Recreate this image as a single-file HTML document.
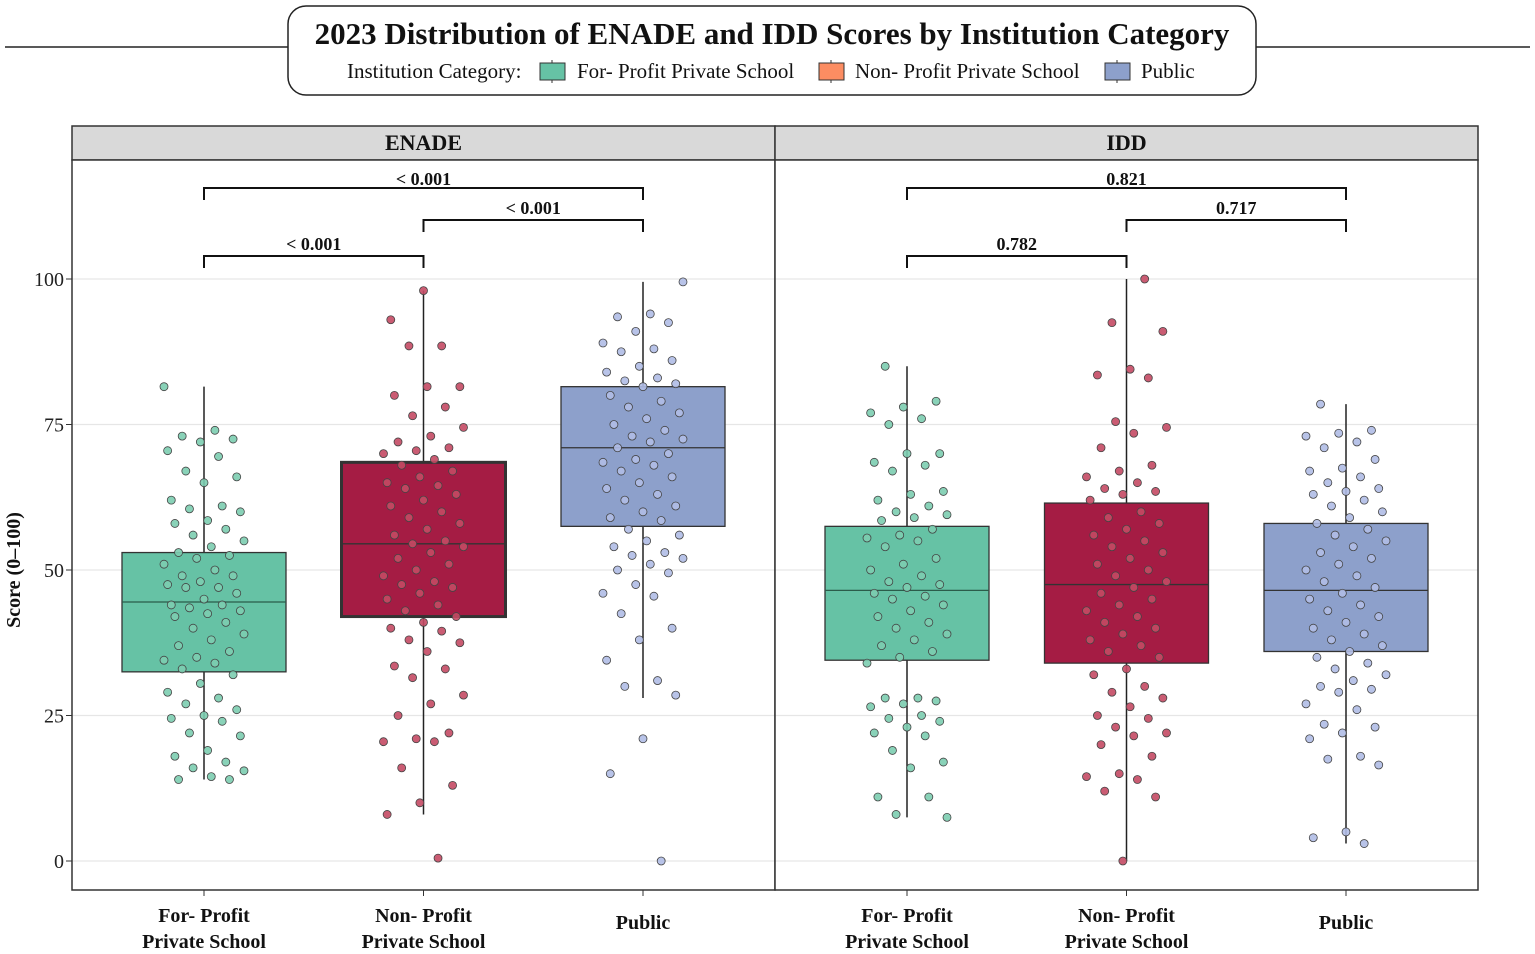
<!DOCTYPE html>
<html><head><meta charset="utf-8"><style>
html,body{margin:0;padding:0;background:#fff;}
svg{display:block;font-family:"Liberation Serif","Times New Roman",serif;}
</style></head><body>
<svg id="chart" width="1535" height="954" viewBox="0 0 1535 954" xmlns="http://www.w3.org/2000/svg">
<line x1="5" y1="47" x2="1530" y2="47" stroke="#222" stroke-width="1.5"/>
<rect x="288" y="6" width="968" height="89" rx="18" fill="#fff" stroke="#222" stroke-width="1.5"/>
<text x="772" y="44" text-anchor="middle" font-size="31" font-weight="bold" fill="#111">2023 Distribution of ENADE and IDD Scores by Institution Category</text>
<g>
<text x="347" y="78" font-size="21" fill="#111">Institution Category:</text>
<g><line x1="552" y1="60" x2="552" y2="83" stroke="#333"/><rect x="540" y="63" width="25" height="17" fill="#66c2a5" stroke="#333"/><text x="577" y="78" font-size="21" fill="#111">For- Profit Private School</text></g>
<g><line x1="831" y1="60" x2="831" y2="83" stroke="#333"/><rect x="819" y="63" width="25" height="17" fill="#fc8d62" stroke="#333"/><text x="855" y="78" font-size="21" fill="#111">Non- Profit Private School</text></g>
<g><line x1="1117" y1="60" x2="1117" y2="83" stroke="#333"/><rect x="1105" y="63" width="25" height="17" fill="#8da0cb" stroke="#333"/><text x="1141" y="78" font-size="21" fill="#111">Public</text></g>
</g>
<g id="plot"></g>
</svg>
<script>
const categories = ["For- Profit|Private School","Non- Profit|Private School","Public"];
const panels = ["ENADE","IDD"];
const yTicks = [0,25,50,75,100];
// box stats: [lowWhisker, q1, median, q3, highWhisker]
const enadeBoxes = [[14,32.5,44.5,53,81.5],[8,42,54.5,68.5,98],[28,57.5,71,81.5,99.5]];
const iddBoxes = [[7.5,34.5,46.5,57.5,85],[0,34,47.5,61.5,100],[3,36,46.5,58,78.5]];
const enadeFP = [81.5,74,73,72.5,72,70.5,69.5,67,66,65,62,61,60.5,60,58.5,58,57,56,55,54,53,52.5,52,51,50,49,49,48,47.5,47,47,46,45,44,44,43.5,43,42.5,42,41,40,39,38,37,36,35,34.5,34,33,32,30.5,29,28,27,26,25,24.5,24,22,21.5,19,18,17,16,15.5,14.5,14,14];
const enadeNP = [98,93,88.5,88.5,81.5,81.5,80,78,76.5,74.5,73,72,71,70.5,70,69,68,67,66,65,64.5,64,63,62,61,60,59,58,57,56,55,54.5,54,53,52,51,50,49,48,47.5,47,46,45,44,43,42,41,40,39.5,38,37.5,36,33.5,33,31.5,28.5,27,25,22,21,20.5,20.5,16,13,10,8,0.5];
const enadePub = [99.5,94,93.5,92.5,91,89,88,87.5,86,85,84,83,82.5,82,81.5,80,79,78,77,76,75,74,73,72.5,72,71,70,69,68.5,68,67,66,65,64,63,62,61,60,59,58.5,57,56,55,54,53,52.5,52,51,50,49.5,47.5,46,45.5,42.5,40,38,34.5,31,30,28.5,21,15,0];
const iddFP = [85,79,78,77,76,75,70,70,68.5,68,67,63.5,63,62,61,60,59.5,59,58.5,57,56,55.5,55,54,52,51,50,49,48,47.5,47,46,45.5,45,44,43,42,41,40,39,38,37,36,35,34,28,28,27.5,27,26.5,25,24.5,24,23,22,21.5,19,17,16,11,11,8,7.5];
const iddNP = [100,92.5,91,84.5,83.5,83,75.5,74.5,73.5,71,68,67,66,65,64,63.5,63,62,60,59,58,57,56,55,54,53,52,51,50,49,48,47,46,45,44,43,42,41,40,39,38,37,36,35,33,32,30,29,28,26.5,25,24.5,23,22,21.5,20,18,15,14.5,14,12,11,0];
const iddPub = [78.5,74,73.5,73,72,71,69,67.5,67,66,65,64,63.5,63,62,61,60,59,58,57,56,55,54,53,52,51,50,49,48,47,46,45,44,43,42,41,40,39,38,37,36,35,34,33,32,31,30,29.5,29,27,26,23.5,23,22,21,18,17.5,16.5,5,4,3];
const enadePvals = ["< 0.001","< 0.001","< 0.001"]; // [1-3, 2-3, 1-2]
const iddPvals = ["0.821","0.717","0.782"];

const NS="http://www.w3.org/2000/svg";
const g=document.getElementById('plot');
function mk(tag,attrs,parent){const e=document.createElementNS(NS,tag);for(const k in attrs)e.setAttribute(k,attrs[k]);(parent||g).appendChild(e);return e;}
const yScale=v=>861-v*5.82;
const panelX=[72,775], panelW=703;
const xScale=(p,i)=>panelX[p]+132+i*219.5;
const fills=["#66c2a5","#a51c44","#8da0cb"];
const ptFill=["#7ccdb0","#c44a64","#b0bce6"];
const boxes=[enadeBoxes,iddBoxes];
const pts=[[enadeFP,enadeNP,enadePub],[iddFP,iddNP,iddPub]];
const pvals=[enadePvals,iddPvals];

yTicks.forEach(t=>{
  const tx=mk('text',{x:64,y:yScale(t)+7,'text-anchor':'end','font-size':20,fill:'#222'});
  tx.textContent=t;
  
  
  mk('line',{x1:66,x2:72,y1:yScale(t),y2:yScale(t),stroke:'#333'});
});
const yt=mk('text',{x:0,y:0,transform:'translate(20,570) rotate(-90)','text-anchor':'middle','font-size':20,'font-weight':'bold',fill:'#111'});
yt.textContent='Score (0–100)';



panels.forEach((pn,p)=>{
  const px=panelX[p];
  const pg=mk('g',{});
  
  
  mk('rect',{x:px,y:126,width:panelW,height:34,fill:'#d9d9d9',stroke:'#333','stroke-width':1.5},pg);
  const st=mk('text',{x:px+panelW/2,y:150,'text-anchor':'middle','font-size':22,'font-weight':'bold',fill:'#111'},pg);
  st.textContent=pn;
  
  
  mk('rect',{x:px,y:160,width:panelW,height:730,fill:'#fff'},pg);
  yTicks.forEach(t=>mk('line',{x1:px,x2:px+panelW,y1:yScale(t),y2:yScale(t),stroke:'#e6e6e6','stroke-width':1.2},pg));
  boxes[p].forEach((b,i)=>{
    const cx=xScale(p,i);
    const bg=mk('g',{},pg);
    
    
    mk('line',{x1:cx,x2:cx,y1:yScale(b[0]),y2:yScale(b[4]),stroke:'#222','stroke-width':1.5},bg);
    const thick=(p===0&&i===1);
    mk('rect',{x:cx-82,y:yScale(b[3]),width:164,height:yScale(b[1])-yScale(b[3]),fill:fills[i],stroke:'#333','stroke-width':thick?3:1.3},bg);
    mk('line',{x1:cx-82,x2:cx+82,y1:yScale(b[2]),y2:yScale(b[2]),stroke:i===0?'#2b5c4a':'#333','stroke-width':1.3},bg);
  });
  pts[p].forEach((arr,i)=>{
    const cx=xScale(p,i);
    arr.forEach((v,k)=>{
      const j=(((k*37+i*11+p*5)%23)-11)/11*40;
      const c=mk('circle',{cx:cx+j,cy:yScale(v),r:4,fill:ptFill[i],stroke:'#444','stroke-width':0.8,'fill-opacity':0.9},pg);
      
      
    });
  });
  const br=[[0,2,188,179],[1,2,220,208],[0,1,256,244]];
  br.forEach((b,k)=>{
    const x1=xScale(p,b[0]),x2=xScale(p,b[1]);
    const bk=mk('g',{},pg);
    
    
    mk('path',{d:`M${x1},${b[2]+12}V${b[2]}H${x2}V${b[2]+12}`,fill:'none',stroke:'#111','stroke-width':2},bk);
    const t=mk('text',{x:(x1+x2)/2,y:b[3]+6,'text-anchor':'middle','font-size':18,'font-weight':'bold',fill:'#111'},bk);
    t.textContent=pvals[p][k];
  });
  mk('rect',{x:px,y:160,width:panelW,height:730,fill:'none',stroke:'#333','stroke-width':1.5},pg);
  categories.forEach((c,i)=>{
    const cx=xScale(p,i);
    mk('line',{x1:cx,x2:cx,y1:890,y2:896,stroke:'#333'},pg);
    const lines=c.split('|');
    const t=mk('text',{x:cx,'text-anchor':'middle','font-size':20,'font-weight':'bold',fill:'#111'},pg);
    
    
    if(lines.length===1){t.setAttribute('y',929);t.textContent=lines[0];}
    else lines.forEach((l,li)=>{const s=mk('tspan',{x:cx,y:922+li*26},t);s.textContent=l;});
  });
});
</script>
</body></html>
